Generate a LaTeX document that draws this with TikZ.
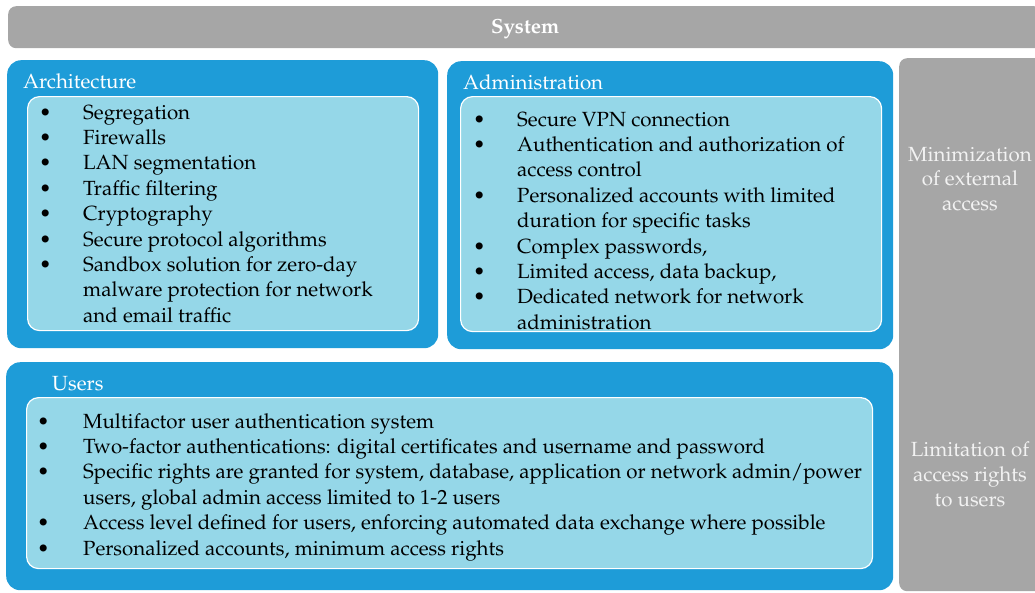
\documentclass[tikz,border=0pt]{standalone}
\usepackage[T1]{fontenc}
\usepackage{mathpazo}
\usetikzlibrary{positioning}
\definecolor{sysgrey}{RGB}{166,166,166}
\definecolor{outerblue}{RGB}{30,156,216}
\definecolor{innerblue}{RGB}{149,215,232}
\definecolor{sidetext}{RGB}{242,242,242}

\begin{document}
\begin{tikzpicture}[
    x=1pt, y=-1pt,
    greybox/.style={rectangle, fill=sysgrey, rounded corners=8pt, anchor=north west, inner sep=0pt},
    outer/.style={rectangle, fill=outerblue, rounded corners=14pt, anchor=north west, inner sep=0pt},
    inner/.style={rectangle, fill=innerblue, draw=white, line width=1.2pt, rounded corners=12pt, anchor=north west, inner sep=0pt},
    title/.style={text=white, anchor=base west, inner sep=0pt, font=\fontsize{20.5}{24}\selectfont},
    list/.style={anchor=base west, inner sep=0pt, text=black, font=\fontsize{20.5}{25.4}\selectfont},
    side/.style={text=sidetext, align=center, inner sep=0pt, font=\fontsize{20.5}{24.8}\selectfont}
]
\useasboundingbox (0,0) rectangle (1035,592);

% frame
\node[greybox, minimum width=1034pt, minimum height=42pt] (sys) at (8,6) {};
\node[text=white, font=\fontsize{20.5}{24}\selectfont\bfseries] (syslabel) at ([yshift=-2pt]sys.center) {System};
\node[greybox, minimum width=146pt, minimum height=533pt] (side) at (899,58) {};
\node[side] (side1) at (970,179) {Minimization\\of external\\access};
\node[side] (side2) at (970,474) {Limitation of\\access rights\\to users};

% architecture
\node[outer, minimum width=431pt, minimum height=288pt] (arch) at (7,60) {};
\node[title] (archtitle) at (23,88) {Architecture};
\node[inner, minimum width=391pt, minimum height=234pt] (archin) at (27,96) {};
\node[list] (archlist) at (39,119) {\begin{tabular}[t]{@{}p{44pt}@{}l@{}}
\textbullet & Segregation\\
\textbullet & Firewalls\\
\textbullet & LAN segmentation\\
\textbullet & Traffic filtering\\
\textbullet & Cryptography\\
\textbullet & Secure protocol algorithms\\
\textbullet & Sandbox solution for zero-day\\
 & malware protection for network\\
 & and email traffic
\end{tabular}};

% administration
\node[outer, minimum width=446pt, minimum height=288pt] (admin) at (447,61) {};
\node[title] (admintitle) at (463,89) {Administration};
\node[inner, minimum width=421pt, minimum height=235pt] (adminin) at (460,96) {};
\node[list] (adminlist) at (473,126) {\begin{tabular}[t]{@{}p{44pt}@{}l@{}}
\textbullet & Secure VPN connection\\
\textbullet & Authentication and authorization of\\
 & access control\\
\textbullet & Personalized accounts with limited\\
 & duration for specific tasks\\
\textbullet & Complex passwords,\\
\textbullet & Limited access, data backup,\\
\textbullet & Dedicated network for network\\
 & administration
\end{tabular}};

% users
\node[outer, minimum width=887pt, minimum height=228pt] (users) at (6,362) {};
\node[title] (userstitle) at (52,390) {Users};
\node[inner, minimum width=846pt, minimum height=171pt] (usersin) at (26,397) {};
\node[list] (userslist) at (37,428) {\begin{tabular}[t]{@{}p{46pt}@{}l@{}}
\textbullet & Multifactor user authentication system\\
\textbullet & Two-factor authentications: digital certificates and username and password\\
\textbullet & Specific rights are granted for system, database, application or network admin/power\\
 & users, global admin access limited to 1-2 users\\
\textbullet & Access level defined for users, enforcing automated data exchange where possible\\
\textbullet & Personalized accounts, minimum access rights
\end{tabular}};
\end{tikzpicture}
\end{document}
